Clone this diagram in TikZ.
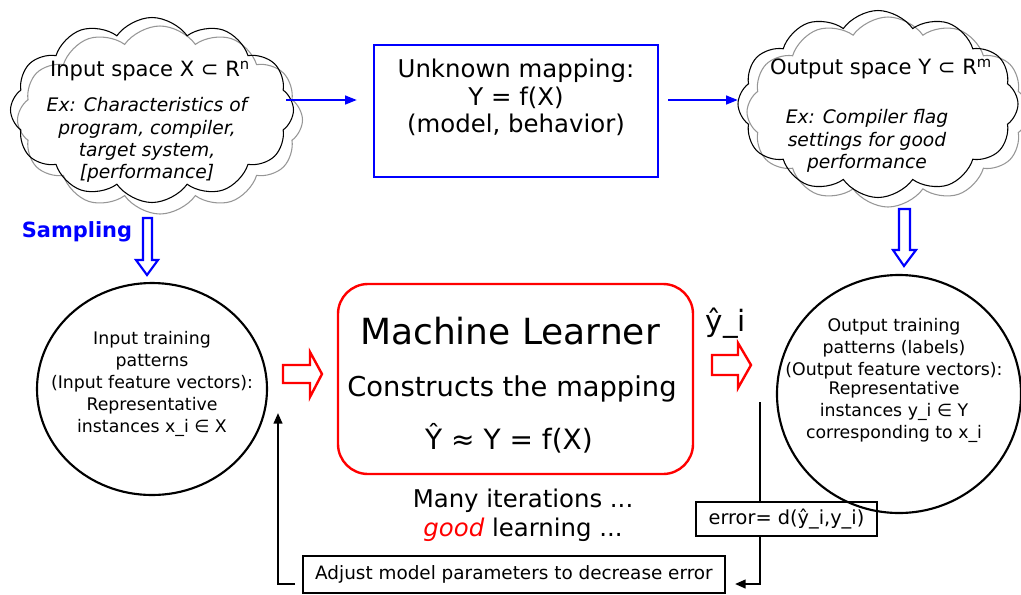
\documentclass[tikz,border=0pt]{standalone}
\usepackage{fontspec}
\setmainfont{DejaVu Sans}
\usetikzlibrary{shapes.symbols,shapes.geometric,arrows.meta}
\definecolor{bblue}{RGB}{0,0,255}
\definecolor{rred}{RGB}{255,0,0}
\definecolor{cgray}{RGB}{150,150,150}
\begin{document}
\begin{tikzpicture}[x=0.75pt,y=-0.75pt,
  cloudshape/.style={cloud, cloud puffs=12, cloud puff arc=110, cloud ignores aspect, inner sep=0pt, line width=0.8pt},
  txt/.style={inner sep=0pt, align=center},
  ttl/.style={txt, font=\fontsize{15.8}{18}\selectfont},
  ital/.style={txt, font=\fontsize{14}{16.7}\selectfont\itshape},
  ell/.style={draw, ellipse, line width=1.6pt, inner sep=0pt},
  ellt/.style={txt, font=\fontsize{13}{16.5}\selectfont},
  hollowblue/.style={draw=bblue, line width=1.6pt, fill=white},
  hollowred/.style={draw=rred, line width=1.8pt, fill=white},
  bluearr/.style={draw=bblue, line width=1.8pt, -{Triangle[length=9pt,width=6.5pt]}},
  blackarr/.style={draw=black, line width=1.6pt, -{Triangle[length=8pt,width=6.5pt]}},
  plainbox/.style={draw, line width=1.1pt, inner xsep=6pt, inner ysep=4pt}
]
\path[use as bounding box] (0,0) rectangle (1021,594);
\clip (0,0) rectangle (1021,594);

% clouds
\node[cloudshape, draw=cgray, minimum width=285*0.75pt, minimum height=188*0.75pt] (lcg) at (160,120) {};
\node[cloudshape, draw=black, minimum width=283*0.75pt, minimum height=185*0.75pt] (lc) at (152,110) {};
\node[cloudshape, draw=cgray, minimum width=282*0.75pt, minimum height=190*0.75pt] (rcg) at (888,112) {};
\node[cloudshape, draw=black, minimum width=280*0.75pt, minimum height=187*0.75pt] (rc) at (878,104) {};

\node[ttl] (lct) at (150,71) {Input space X ⊂ R\textsuperscript{n}};
\node[ital] (lci) at (147,140) {Ex: Characteristics of\\program, compiler,\\target system,\\{[performance]}};
\node[ttl] (rct) at (881,69) {Output space Y ⊂ R\textsuperscript{m}};
\node[ital] (rci) at (867,141) {Ex: Compiler flag\\settings for good\\performance};

% unknown mapping box
\node[draw=bblue, line width=1.8pt, minimum width=284*0.75pt, minimum height=132*0.75pt, inner sep=0pt] (um) at (516,111) {};
\node[txt, font=\fontsize{18.3}{20.5}\selectfont, anchor=north] (umt) at (516,59) {Unknown mapping:\\Y = f(X)\\(model, behavior)};

\coordinate (a1s) at (286,100);
\coordinate (a1e) at (357,100);
\coordinate (a2s) at (668,100);
\coordinate (a2e) at (738,100);
\draw[bluearr] (a1s) -- (a1e);
\draw[bluearr] (a2s) -- (a2e);

% sampling
\node[txt, font=\fontsize{15.7}{18}\selectfont\bfseries, text=bblue] (samp) at (77,232) {Sampling};
\draw[hollowblue] (143,218) -- (152,218) -- (152,260) -- (158,260) -- (147,275) -- (136,260) -- (143,260) -- cycle;
\draw[hollowblue] (899,209) -- (910,209) -- (910,250) -- (916,250) -- (904,266) -- (893,250) -- (899,250) -- cycle;

% ellipses
\node[ell, minimum width=230*0.75pt, minimum height=212*0.75pt] (le) at (152,389) {};
\node[ellt] (let) at (152,384) {Input training\\patterns\\(Input feature vectors):\\Representative\\instances x\_i ∈ X};
\node[ell, minimum width=244*0.75pt, minimum height=238*0.75pt] (re) at (899,394) {};
\node[ellt] (ret1) at (894,349) {Output training\\patterns (labels)\\(Output feature vectors):};
\node[ellt] (ret2) at (894,412) {Representative\\instances y\_i ∈ Y\\corresponding to x\_i};

% red arrows
\draw[hollowred] (283,365) -- (310,365) -- (310,352) -- (322,374) -- (310,397) -- (310,383) -- (283,383) -- cycle;
\draw[hollowred] (712,355) -- (738,355) -- (738,343) -- (751,365) -- (738,388) -- (738,375) -- (712,375) -- cycle;

% machine learner
\node[draw=rred, line width=1.8pt, rounded corners=30*0.75pt, minimum width=355*0.75pt, minimum height=190*0.75pt, inner sep=0pt] (ml) at (515.5,379) {};
\node[txt, font=\fontsize{27}{30}\selectfont] (mlt) at (510,331) {Machine Learner};
\node[txt, font=\fontsize{20.5}{23}\selectfont] (mlc) at (512,389) {Constructs the mapping};
\node[txt, font=\fontsize{21}{23}\selectfont] (mlf) at (509,438) {Ŷ ≈ Y = f(X)};

\node[txt, font=\fontsize{22}{24}\selectfont] (yhat) at (726,323) {ŷ\_i};

\node[txt, font=\fontsize{18.3}{22}\selectfont] (many) at (523,515) {Many iterations ...\\\textcolor{rred}{\itshape good} learning ...};

% feedback
\node[plainbox, font=\fontsize{14.5}{16}\selectfont, minimum width=181*0.75pt, minimum height=34*0.75pt, inner sep=0pt] (err) at (786.5,519) {error= d(ŷ\_i,y\_i)};
\node[plainbox, line width=1.6pt, font=\fontsize{13.8}{15}\selectfont, minimum width=422*0.75pt, minimum height=37*0.75pt, inner sep=0pt] (adj) at (514,574.5) {Adjust model parameters to decrease error};

\coordinate (f1) at (760,402);
\coordinate (f2) at (760,584);
\coordinate (f3) at (735,584);
\draw[line width=1.6pt] (f1) -- (err.north -| f1);
\draw[blackarr] (err.south -| f1) -- (f2) -- (f3);

\coordinate (g1) at (295,584);
\coordinate (g2) at (278,584);
\coordinate (g3) at (278,413);
\draw[blackarr] (g1) -- (g2) -- (g3);
\end{tikzpicture}
\end{document}
